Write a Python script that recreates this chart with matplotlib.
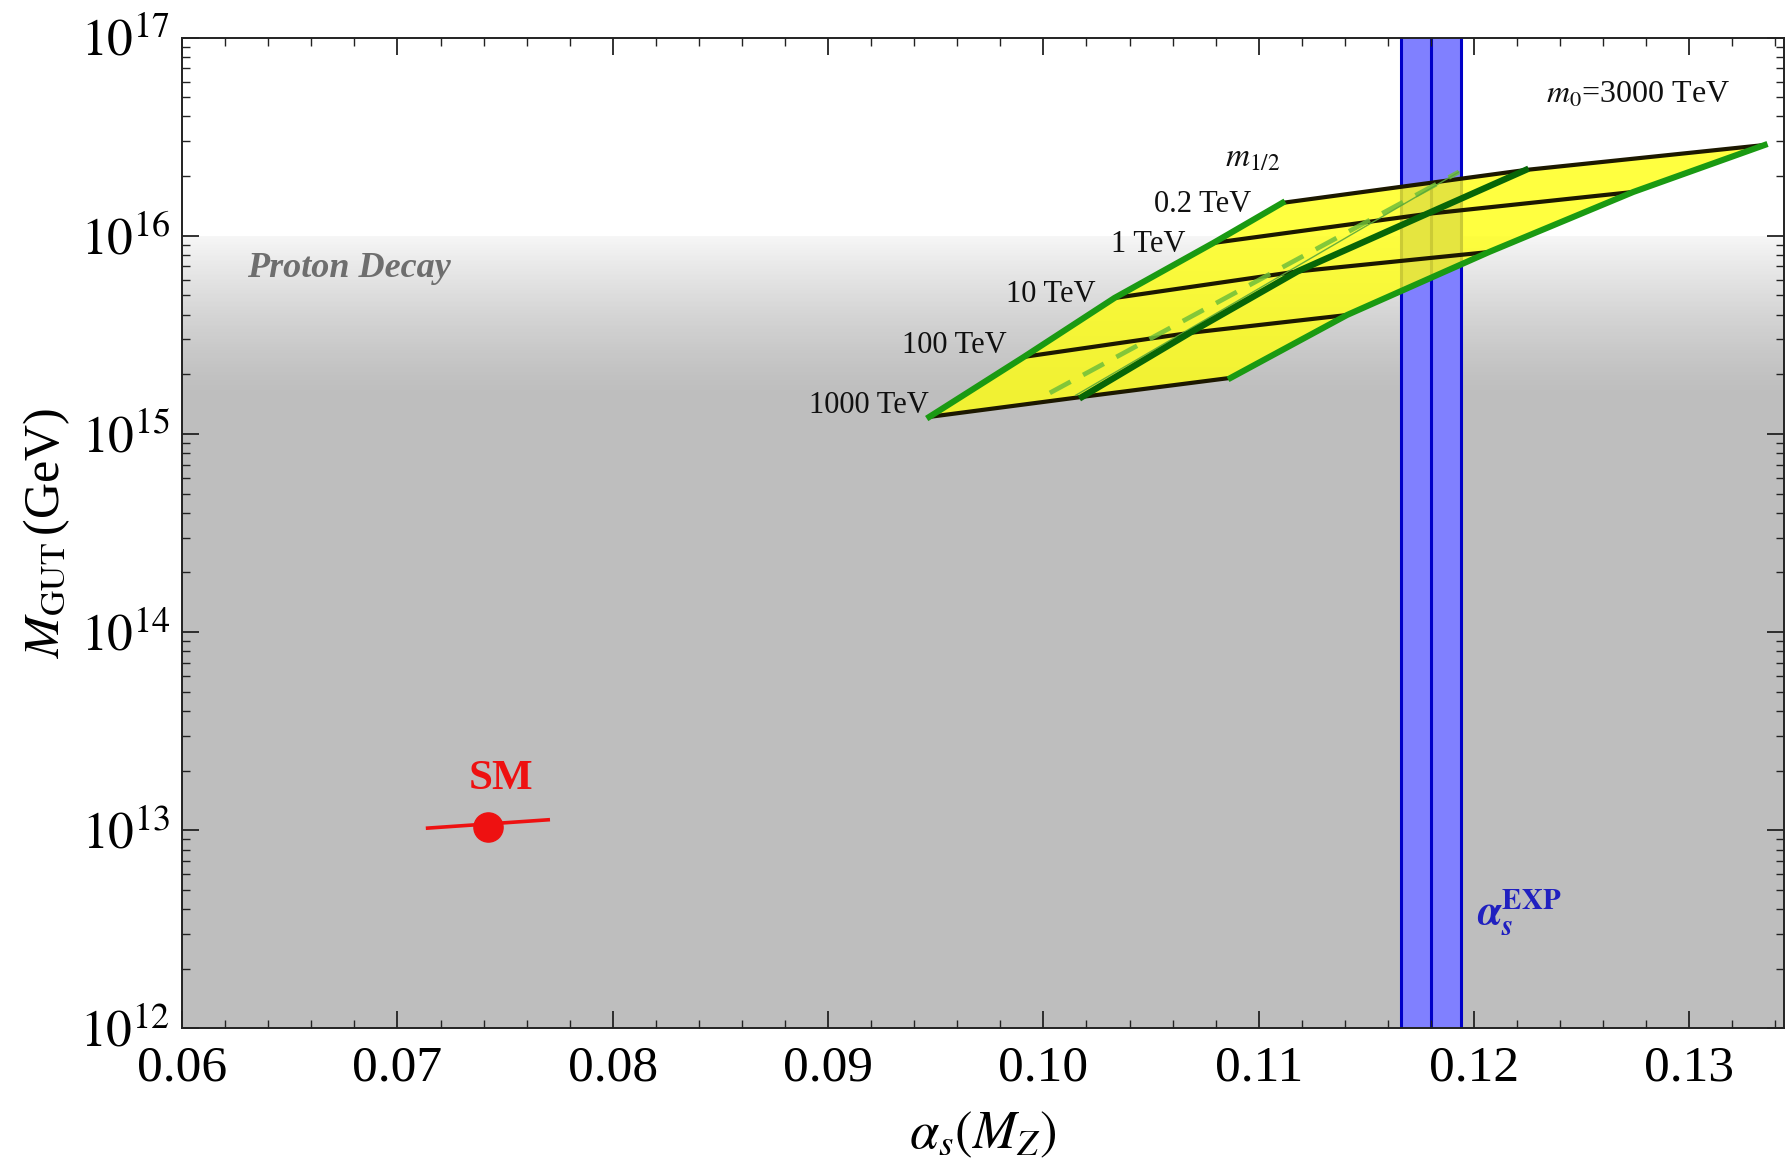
import numpy as np
import matplotlib
matplotlib.use("Agg")
import matplotlib.pyplot as plt
from matplotlib.ticker import FixedLocator, FixedFormatter, LogLocator, NullFormatter, MultipleLocator

plt.rcParams['font.family'] = ['Liberation Serif', 'DejaVu Serif']
plt.rcParams['mathtext.fontset'] = 'stix'

# ---------------- data ----------------
m12_labels = ["1000 TeV", "100 TeV", "10 TeV", "1 TeV", "0.2 TeV"]
# grid points along the three m0 curves (lowest m0, middle, m0 = 3000 TeV), ordered as m12_labels
alpha_m0_low = [0.0947, 0.0991, 0.1033, 0.1079, 0.1111]
logM_m0_low = [15.086, 15.389, 15.686, 15.964, 16.166]
alpha_m0_mid = [0.1018, 0.1068, 0.1118, 0.1178, 0.1224]
logM_m0_mid = [15.187, 15.510, 15.820, 16.110, 16.332]
alpha_m0_high = [0.1087, 0.1141, 0.1207, 0.1274, 0.1335]
logM_m0_high = [15.283, 15.600, 15.918, 16.221, 16.458]
# dashed / thin reference curves
alpha_dashed = [0.1003, 0.1193]
logM_dashed = [15.207, 16.322]
alpha_thin = [0.1015, 0.1193]
logM_thin = [15.195, 16.322]

# SM point
sm_alpha = 0.0742
sm_logM = 13.019
sm_line_alpha = [0.0714, 0.0770]
sm_line_logM = [13.011, 13.053]

# experimental alpha_s band
alpha_exp_center = 0.1180
alpha_exp_low = 0.1166
alpha_exp_high = 0.1194

# proton decay bound
proton_logM = 16.0

x_ticks = [0.06, 0.07, 0.08, 0.09, 0.10, 0.11, 0.12, 0.13]
x_ticklabels = ["0.06", "0.07", "0.08", "0.09", "0.10", "0.11", "0.12", "0.13"]
y_ticks = [1e12, 1e13, 1e14, 1e15, 1e16, 1e17]
y_ticklabels = [r"$10^{12}$", r"$10^{13}$", r"$10^{14}$", r"$10^{15}$", r"$10^{16}$", r"$10^{17}$"]

# ---------------- figure ----------------
fig = plt.figure(figsize=(17.86, 11.67), dpi=100)
ax = fig.add_axes([0.102, 0.1187, 0.8969, 0.8491])
ax.set_yscale('log')
ax.set_xlim(0.06, 0.1344)
ax.set_ylim(1e12, 1e17)

grey = 0.745
# uniform grey region + gradient just below proton bound
grad_bottom = 15.2
ax.axhspan(1e12, 10**grad_bottom, color=(grey, grey, grey), lw=0, zorder=0)
n = 100
edges = np.linspace(grad_bottom, proton_logM, n + 1)
for i in range(n):
    t = (i + 0.5) / n
    c = grey + (0.965 - grey) * t ** 1.3
    ax.axhspan(10**edges[i], 10**edges[i + 1], color=(c, c, c), lw=0, zorder=0)

# experimental band
ax.axvspan(alpha_exp_low, alpha_exp_high, facecolor='#8080ff', edgecolor='none', zorder=1)
for a in [alpha_exp_low, alpha_exp_center, alpha_exp_high]:
    ax.axvline(a, color='#0000c8', lw=2.2, zorder=1.5)

# yellow region
A = [alpha_m0_low, alpha_m0_mid, alpha_m0_high]
L = [logM_m0_low, logM_m0_mid, logM_m0_high]
poly_a = list(alpha_m0_low) + [alpha_m0_mid[-1]] + list(alpha_m0_high[::-1]) + [alpha_m0_mid[0]]
poly_l = list(logM_m0_low) + [logM_m0_mid[-1]] + list(logM_m0_high[::-1]) + [logM_m0_mid[0]]
ax.fill(poly_a, 10**np.array(poly_l), facecolor='#ffff10', alpha=0.8, edgecolor='none', zorder=2)

# m1/2 lines (black)
for j in range(len(m12_labels)):
    xs = [A[k][j] for k in range(3)]
    ys = [10**L[k][j] for k in range(3)]
    ax.plot(xs, ys, color='#1c1800', lw=3.0, zorder=3, solid_capstyle='butt')

# dashed and thin green reference
ax.plot(alpha_dashed, 10**np.array(logM_dashed), color='#6fbf3a', lw=3.4, ls=(0, (5, 3)), alpha=0.85, zorder=3.2)
ax.plot(alpha_thin, 10**np.array(logM_thin), color='#5aa83a', lw=1.0, alpha=0.9, zorder=3.2)

# m0 lines (green)
ax.plot(alpha_m0_low, 10**np.array(logM_m0_low), color='#1a9a12', lw=4.4, zorder=4)
ax.plot(alpha_m0_mid, 10**np.array(logM_m0_mid), color='#076607', lw=4.6, zorder=4)
ax.plot(alpha_m0_high, 10**np.array(logM_m0_high), color='#1a9a12', lw=4.4, zorder=4)

# SM
ax.plot(sm_line_alpha, 10**np.array(sm_line_logM), color='#ee1111', lw=2.6, zorder=5)
ax.plot([sm_alpha], [10**sm_logM], 'o', color='#ee1111', ms=21, zorder=6)
ax.text(0.0748, 10**13.209, "SM", color='#ee1111', fontsize=31, fontweight='bold', ha='center', va='baseline', zorder=6)

# texts
ax.text(0.0630, 10**15.793, "Proton Decay", color='#6e6e6e', fontsize=26, fontweight='bold', style='italic',
        ha='left', va='baseline', zorder=6)
label_pos = [(0.0947, 15.106), (0.0983, 15.409), (0.10244, 15.666), (0.10658, 15.918), (0.10964, 16.120)]
for lab, (xa, yl) in zip(m12_labels, label_pos):
    ax.text(xa, 10**yl, lab, fontsize=22, ha='right', va='baseline', color='#111111', zorder=6)
ax.text(0.10974, 10**16.35, r"$m_{1/2}$", fontsize=24, ha='center', va='baseline', color='#111111', zorder=6)
ax.text(0.12762, 10**16.673, r"$m_0$=3000 TeV", fontsize=23, ha='center', va='baseline', color='#111111', zorder=6)
ax.text(0.12014, 10**12.523, r"$\mathbfit{\alpha}_{\mathbfit{s}}^{\mathbf{EXP}}$", fontsize=30, ha='left', va='baseline',
        color='#2020c0', zorder=6)

# axes styling
ax.xaxis.set_major_locator(FixedLocator(x_ticks))
ax.xaxis.set_major_formatter(FixedFormatter(x_ticklabels))
ax.xaxis.set_minor_locator(MultipleLocator(0.002))
ax.yaxis.set_major_locator(FixedLocator(y_ticks))
ax.yaxis.set_major_formatter(FixedFormatter(y_ticklabels))
ax.yaxis.set_minor_locator(LogLocator(base=10, subs=np.arange(2, 10)))
ax.yaxis.set_minor_formatter(NullFormatter())
ax.tick_params(which='both', direction='in', top=True, right=True, color='#222222')
ax.tick_params(which='major', length=12, width=1.3, labelsize=37)
ax.tick_params(which='minor', length=6, width=1.0)
ax.tick_params(axis='x', which='major', pad=12)
ax.tick_params(axis='y', which='major', pad=9)
for s in ax.spines.values():
    s.set_color('#222222')
    s.set_linewidth(1.4)
    s.set_zorder(10)

ax.set_xlabel(r"$\alpha_s(M_Z)$", fontsize=38, labelpad=13)
ax.set_ylabel(r"$M_{\mathrm{GUT}}\,$(GeV)", fontsize=36, labelpad=6)

fig.savefig("out.png", dpi=100, facecolor='white')
